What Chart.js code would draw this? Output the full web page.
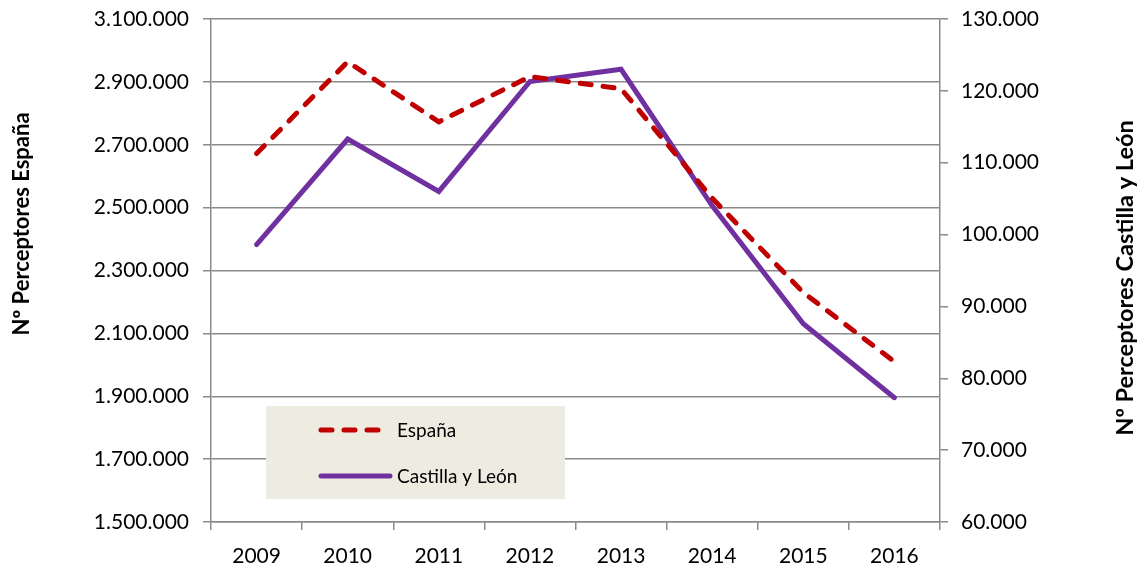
<!DOCTYPE html>
<html>
<head>
<meta charset="utf-8">
<script src="https://cdn.jsdelivr.net/npm/chart.js@4.4.0/dist/chart.umd.min.js"></script>
<style>
  html, body { margin: 0; padding: 0; background: #fff; }
  #wrap { width: 1141px; height: 569px; }
</style>
</head>
<body>
<div id="wrap"><canvas id="chart" width="1141" height="569"></canvas></div>
<script>
"use strict";

// values
const years = ["2009", "2010", "2011", "2012", "2013", "2014", "2015", "2016"];
const espana = [2672000, 2964000, 2773000, 2917000, 2878000, 2530000, 2230000, 2010000];
const castilla = [98600, 113300, 106000, 121300, 123000, 104000, 87600, 77300];

const leftTitle = "Nº Perceptores España";
const rightTitle = "Nº Perceptores Castilla y León";

const gridColor = "#8a8a8a";
const fontFamily = "Lato, 'Open Sans', sans-serif";

function fmt(v) {
    return String(Math.round(v)).replace(/\B(?=(\d{3})+(?!\d))/g, ".");
}

// legend box inside the plot + the two axis titles
const extras = {
    id: "extras",
    beforeDatasetsDraw(chart) {
        let ctx = chart.ctx;
        let a = chart.chartArea;
        let x0 = a.left + 55, y0 = a.bottom - 116;
        ctx.save();
        ctx.fillStyle = "#EEECE1";
        ctx.fillRect(x0, y0, 299, 93);
        ctx.font = "19px " + fontFamily;
        ctx.textBaseline = "middle";
        chart.data.datasets.forEach((ds, i) => {
            let y = y0 + 24 + i * 46;
            ctx.beginPath();
            ctx.strokeStyle = ds.borderColor;
            ctx.lineWidth = ds.borderWidth;
            ctx.lineCap = "round";
            ctx.setLineDash(ds.borderDash || []);
            ctx.moveTo(x0 + 55, y);
            ctx.lineTo(x0 + (ds.borderDash ? 114 : 124), y);
            ctx.stroke();
            ctx.setLineDash([]);
            ctx.fillStyle = "#000";
            ctx.fillText(ds.label, x0 + 131, y + 1);
        });
        ctx.restore();
    },
    afterDraw(chart) {
        let ctx = chart.ctx;
        [[leftTitle, 22, 224, 22], [rightTitle, 1125, 278, 23.5]].forEach(([text, x, y, size]) => {
            ctx.save();
            ctx.fillStyle = "#000";
            ctx.font = "bold " + size + "px " + fontFamily;
            ctx.textAlign = "center";
            ctx.textBaseline = "middle";
            ctx.translate(x, y);
            ctx.rotate(-Math.PI / 2);
            ctx.fillText(text, 0, 0);
            ctx.restore();
        });
    }
};

function pinVertical(width) {
    return s => {
        s.width = width;
        s.paddingTop = 0;
        s.paddingBottom = 0;
    };
}

let ctx = document.getElementById("chart").getContext("2d");
let chart = new Chart(ctx, {
    type: "line",
    data: {
        labels: years,
        datasets: [{
            label: "España",
            data: espana,
            yAxisID: "y",
            borderColor: "#C00000",
            borderWidth: 5,
            borderDash: [11, 12],
            borderCapStyle: "round",
            pointRadius: 0,
            tension: 0,
            order: 1
        }, {
            label: "Castilla y León",
            data: castilla,
            yAxisID: "y1",
            borderColor: "#7030A0",
            borderWidth: 5,
            borderCapStyle: "round",
            borderJoinStyle: "miter",
            pointRadius: 0,
            tension: 0,
            order: 2
        }]
    },
    options: {
        responsive: false,
        animation: false,
        layout: { padding: { top: 19, left: 0, right: 0, bottom: 0 } },
        plugins: {
            legend: { display: false },
            tooltip: { enabled: false }
        },
        scales: {
            x: {
                offset: true,
                grid: { offset: true, drawOnChartArea: false, color: gridColor, lineWidth: 1.5, tickLength: 8 },
                border: { color: gridColor, width: 1.5 },
                ticks: { color: "#000", font: { family: fontFamily, size: 21 }, padding: 14, maxRotation: 0 },
                afterFit: s => { s.height = 47; }
            },
            y: {
                position: "left",
                min: 1500000,
                max: 3100000,
                ticks: { stepSize: 200000, color: "#000", font: { family: fontFamily, size: 21 }, padding: 14, callback: v => fmt(v) },
                grid: { color: gridColor, lineWidth: 1.5, tickLength: 8 },
                border: { color: gridColor, width: 1.5 },
                afterFit: pinVertical(211)
            },
            y1: {
                position: "right",
                min: 60000,
                max: 130000,
                ticks: { stepSize: 10000, color: "#000", font: { family: fontFamily, size: 21 }, padding: 13, callback: v => fmt(v) },
                grid: { drawOnChartArea: false, color: gridColor, lineWidth: 1.5, tickLength: 8 },
                border: { color: gridColor, width: 1.5 },
                afterFit: pinVertical(201)
            }
        }
    },
    plugins: [extras]
});
</script>
</body>
</html>
